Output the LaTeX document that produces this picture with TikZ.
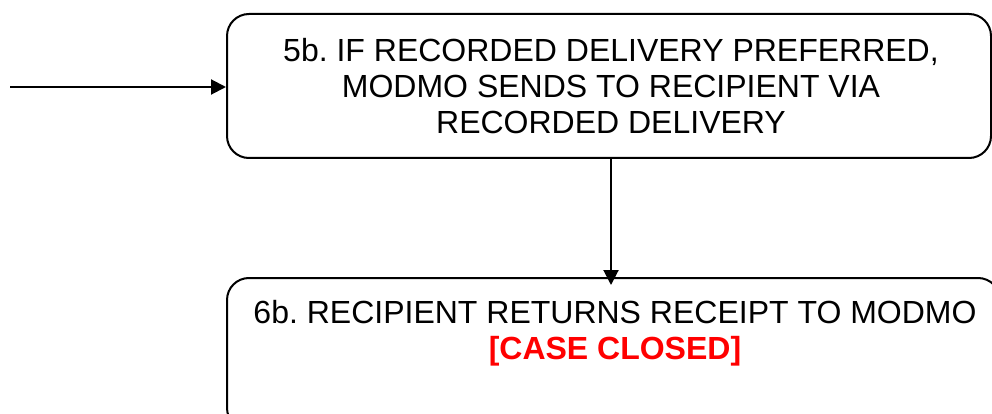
\documentclass[tikz,border=0pt]{standalone}
\usepackage{fontspec}
\setmainfont{Liberation Sans}
\usetikzlibrary{arrows.meta}
\definecolor{casered}{RGB}{255,0,0}
\frenchspacing
\tikzset{
  stepbox/.style={draw=black, line width=2pt, rounded corners=22pt, inner sep=0pt},
  boxtext/.style={align=center, font=\fontsize{32}{36}\selectfont, inner sep=0pt},
  conn/.style={draw=black, line width=2pt, -{Triangle[length=15pt,width=15pt]}},
}
\begin{document}
\begin{tikzpicture}[x=1pt,y=-1pt]
\useasboundingbox (0,0) rectangle (992,414);
\node[stepbox, minimum width=764pt, minimum height=144pt] (b1) at (609,86) {};
\node[boxtext] (t1) at (611,86) {5b. IF RECORDED DELIVERY PREFERRED,\\MODMO SENDS TO RECIPIENT VIA\\RECORDED DELIVERY};
\node[stepbox, minimum width=773pt, minimum height=152pt] (b2) at (613.5,354) {};
\node[boxtext] (t2) at (615,333) {6b. RECIPIENT RETURNS RECEIPT TO MODMO\\\textcolor{casered}{\textbf{[CASE CLOSED]}}};
\coordinate (start) at (10,87);
\draw[conn] (start) -- (b1.west |- start);
\draw[conn] (b1.south -| 611,0) -- ([yshift=-8pt]b2.north -| 611,0);
\end{tikzpicture}
\end{document}
